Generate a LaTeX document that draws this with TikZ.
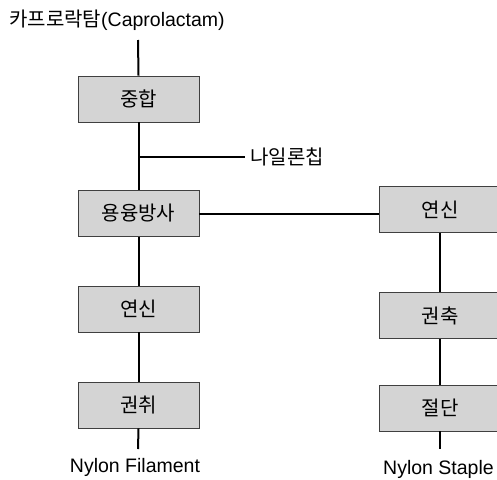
\documentclass[tikz,border=0pt]{standalone}
\usepackage{fontspec}
\setmainfont{Noto Sans CJK KR}
\newfontfamily\latinfont{Liberation Sans}
\begin{document}
\begin{tikzpicture}[x=1pt,y=-1pt,
  stepbox/.style={draw=black!75,line width=0.8pt,fill=black!17,minimum width=121pt,minimum height=46pt,inner sep=0pt,font=\fontsize{20}{22}\selectfont},
  lbl/.style={inner sep=0pt,font=\fontsize{20}{22}\selectfont},
  latlbl/.style={inner sep=0pt,font=\latinfont\fontsize{19.5}{22}\selectfont},
  conn/.style={line width=2pt}]
\useasboundingbox (0,0) rectangle (497,479);
\node[lbl,anchor=west] (cap) at (9,20) {카프로락탐{\latinfont\fontsize{19.5}{22}\selectfont(Caprolactam)}};
\coordinate (top) at (138,40);
\node[stepbox] (b1) at (138.5,99) {중합};
\node[stepbox] (b2) at (138.5,213.5) {용융방사};
\node[stepbox] (b3) at (138.5,309) {연신};
\node[stepbox] (b4) at (138.5,405) {권취};
\coordinate (j) at (138,157);
\coordinate (chipend) at (245,157);
\node[lbl,anchor=west] (chip) at (250,157) {나일론칩};
\coordinate (fend) at (138,449);
\node[latlbl] (fil) at (135,467) {Nylon Filament};
\node[stepbox] (r1) at (440,209.5) {연신};
\node[stepbox] (r2) at (440,315.5) {권축};
\node[stepbox] (r3) at (440,408) {절단};
\coordinate (send) at (440,449);
\node[latlbl] (sta) at (438.5,469) {Nylon Staple};
\draw[conn] (top) -- (b1.north);
\draw[conn] (b1.south) -- (b2.north);
\draw[conn] (j) -- (chipend);
\draw[conn] (b2.south) -- (b3.north);
\draw[conn] (b3.south) -- (b4.north);
\draw[conn] (b4.south) -- (fend);
\draw[conn] (b2.east) -- (r1.west |- b2.east);
\draw[conn] (r1.south) -- (r2.north);
\draw[conn] (r2.south) -- (r3.north);
\draw[conn] (r3.south) -- (send);
\end{tikzpicture}
\end{document}
